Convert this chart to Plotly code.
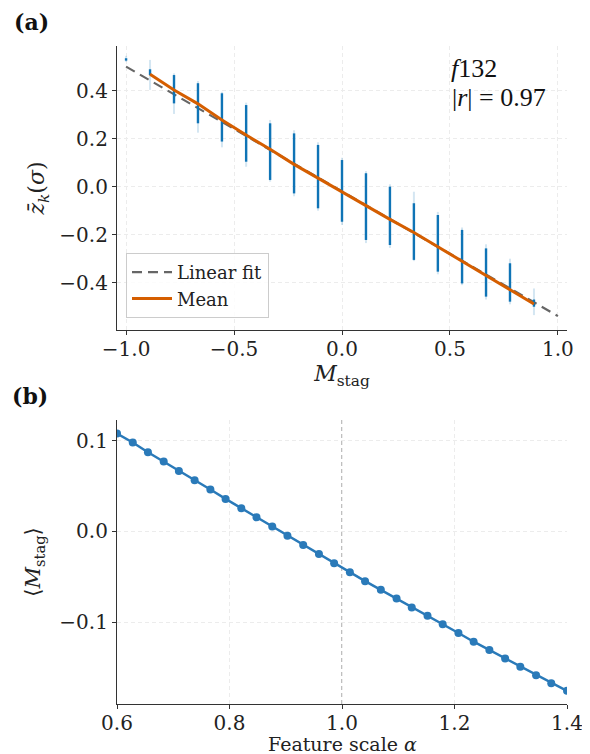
import plotly.graph_objects as go

# ---------------- data: panel (a) ----------------
m_stag = [-1.0, -0.889, -0.778, -0.667, -0.556, -0.444, -0.333, -0.222, -0.111,
          0.0, 0.111, 0.222, 0.333, 0.444, 0.556, 0.667, 0.778, 0.889]
# dense core range of each cluster of points
core_lo = [0.525, 0.465, 0.347, 0.264, 0.188, 0.104, 0.028, -0.028, -0.090,
           -0.146, -0.222, -0.243, -0.305, -0.354, -0.403, -0.458, -0.479, -0.500]
core_hi = [0.535, 0.489, 0.465, 0.431, 0.389, 0.340, 0.264, 0.222, 0.174,
           0.111, 0.056, 0.000, -0.069, -0.118, -0.180, -0.257, -0.319, -0.470]
# faint outer range
tail_lo = [0.520, 0.403, 0.303, 0.225, 0.164, 0.083, 0.021, -0.040, -0.100,
           -0.160, -0.235, -0.255, -0.310, -0.365, -0.410, -0.470, -0.490, -0.535]
tail_hi = [0.545, 0.528, 0.472, 0.440, 0.395, 0.350, 0.278, 0.235, 0.185,
           0.120, 0.065, 0.010, -0.021, -0.105, -0.170, -0.240, -0.300, -0.424]

mean_x = [-0.889, -0.778, -0.667, -0.556, -0.444, -0.333, -0.222, -0.111, 0.0,
          0.111, 0.222, 0.333, 0.444, 0.556, 0.667, 0.778, 0.889]
mean_y = [0.468, 0.403, 0.345, 0.278, 0.215, 0.156, 0.093, 0.035, -0.021,
          -0.080, -0.136, -0.191, -0.250, -0.310, -0.372, -0.428, -0.489]

fit_x = [-1.0, 1.0]
fit_y = [0.500, -0.539]

# ---------------- data: panel (b) ----------------
alpha = [0.600, 0.628, 0.655, 0.683, 0.710, 0.738, 0.766, 0.793, 0.821, 0.848,
         0.876, 0.903, 0.931, 0.959, 0.986, 1.014, 1.041, 1.069, 1.097, 1.124,
         1.152, 1.179, 1.207, 1.234, 1.262, 1.290, 1.317, 1.345, 1.372, 1.400]
m_mean = [0.1079, 0.0980, 0.0873, 0.0771, 0.0667, 0.0565, 0.0463, 0.0359, 0.0257, 0.0157,
          0.0055, -0.0048, -0.0148, -0.0247, -0.0349, -0.0448, -0.0547, -0.0643, -0.0738, -0.0837,
          -0.0927, -0.1022, -0.1118, -0.1214, -0.1305, -0.1399, -0.1491, -0.1583, -0.1671, -0.1755]

# page body has an 8px margin: figure occupies (8,8) .. (590,754)
OFF = 8
W, H = 590 - OFF, 754 - OFF
FONT = "DejaVu Serif"
BLUE = "#0f74b6"
ORANGE = "#d55e00"


def fx(px):
    return (px - OFF) / W


def fy(py):
    return 1 - (py - OFF) / H


def seg(xs, lo, hi):
    X, Y = [], []
    for x, a, b in zip(xs, lo, hi):
        X += [x, x, None]
        Y += [a, b, None]
    return X, Y


fig = go.Figure()

fig.add_trace(go.Scatter(x=fit_x, y=fit_y, mode="lines", name="Linear fit",
                         line=dict(color="#666666", width=2.2, dash="10px,6px"),
                         xaxis="x", yaxis="y"))
tx, ty = seg(m_stag, tail_lo, tail_hi)
fig.add_trace(go.Scatter(x=tx, y=ty, mode="lines", showlegend=False,
                         line=dict(color="rgba(15,116,182,0.18)", width=2),
                         xaxis="x", yaxis="y"))
cx, cy = seg(m_stag, core_lo, core_hi)
fig.add_trace(go.Scatter(x=cx, y=cy, mode="lines", showlegend=False,
                         line=dict(color=BLUE, width=2.4),
                         xaxis="x", yaxis="y"))
fig.add_trace(go.Scatter(x=mean_x, y=mean_y, mode="lines", name="Mean",
                         line=dict(color=ORANGE, width=3),
                         xaxis="x", yaxis="y"))

fig.add_trace(go.Scatter(x=alpha, y=m_mean, mode="lines+markers", showlegend=False,
                         line=dict(color="#2a7ab9", width=2.5),
                         marker=dict(color="#2a7ab9", size=8),
                         xaxis="x2", yaxis="y2"))

ax_common = dict(showline=True, linecolor="#333333", linewidth=1.2, mirror=False,
                 ticks="outside", ticklen=4, tickwidth=1.2, tickcolor="#333333",
                 showgrid=True, gridcolor="#ececec", griddash="4px,3px", gridwidth=1,
                 zeroline=False, automargin=False,
                 tickfont=dict(family=FONT, size=20, color="#222"))

fig.update_layout(
    width=W, height=H, margin=dict(l=0, r=0, t=0, b=0),
    paper_bgcolor="white", plot_bgcolor="white",
    font=dict(family=FONT, color="#222"),
    xaxis=dict(domain=[fx(117), fx(567)], range=[-1.042, 1.042], anchor="y",
               tickvals=[-1.0, -0.5, 0.0, 0.5, 1.0], tickformat=".1f", ticklabelstandoff=-3,
               title=dict(text="<i>M</i><sub>stag</sub>", font=dict(family=FONT, size=22), standoff=0),
               **ax_common),
    yaxis=dict(domain=[fy(330), fy(46)], range=[-0.597, 0.586], anchor="x",
               tickvals=[-0.4, -0.2, 0.0, 0.2, 0.4], tickformat=".1f",
               title=dict(text="<i>z̄</i><sub><i>k</i></sub>(<i>σ</i>)", font=dict(family=FONT, size=22), standoff=8),
               **ax_common),
    xaxis2=dict(domain=[fx(117), fx(567)], range=[0.6, 1.4], anchor="y2",
                tickvals=[0.6, 0.8, 1.0, 1.2, 1.4], tickformat=".1f", ticklabelstandoff=-3,
                **ax_common),
    yaxis2=dict(domain=[fy(704), fy(420)], range=[-0.19, 0.1228], anchor="x2",
                tickvals=[-0.1, 0.0, 0.1], tickformat=".1f",
                title=dict(text="⟨<i>M</i><sub>stag</sub>⟩", font=dict(family=FONT, size=21), standoff=12),
                **ax_common),
    legend=dict(x=fx(126), y=fy(253), xanchor="left", yanchor="top",
                bgcolor="rgba(255,255,255,0.85)", bordercolor="#cccccc", borderwidth=1,
                font=dict(family=FONT, size=18, color="#222"), itemwidth=40,
                tracegroupgap=2),
    shapes=[dict(type="line", xref="x2", yref="y2 domain", x0=1.0, x1=1.0, y0=0, y1=1,
                 line=dict(color="#aaaaaa", width=1.5, dash="4px,3px"), layer="below")],
    annotations=[
        dict(text="<b>(a)</b>", x=fx(12), y=fy(22), xref="paper", yref="paper",
             xanchor="left", yanchor="middle", showarrow=False,
             font=dict(family=FONT, size=22, color="#111")),
        dict(text="<b>(b)</b>", x=fx(10), y=fy(396), xref="paper", yref="paper",
             xanchor="left", yanchor="middle", showarrow=False,
             font=dict(family=FONT, size=22, color="#111")),
        dict(text="<i>f</i>132", x=fx(449), y=fy(68),
             xref="paper", yref="paper", xanchor="left", yanchor="middle",
             showarrow=False, font=dict(family="Liberation Serif", size=26, color="#111")),
        dict(text="|<i>r</i>| = 0.97", x=fx(450), y=fy(98),
             xref="paper", yref="paper", xanchor="left", yanchor="middle",
             showarrow=False, font=dict(family="Liberation Serif", size=26, color="#111")),
        dict(text="Feature scale <i>α</i>", x=fx(342), y=fy(744),
             xref="paper", yref="paper", xanchor="center", yanchor="middle",
             showarrow=False, font=dict(family=FONT, size=19, color="#222")),
    ],
)

fig.write_html("out.html")
